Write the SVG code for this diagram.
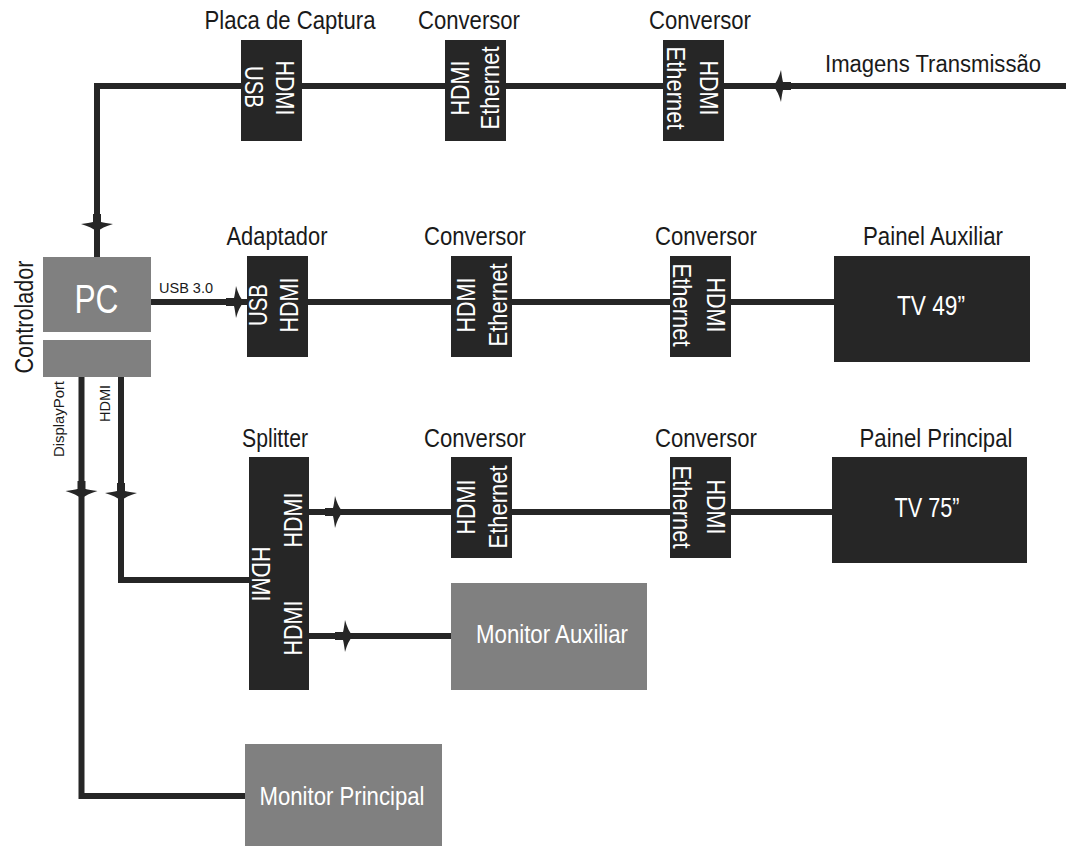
<svg xmlns="http://www.w3.org/2000/svg" xmlns:xlink="http://www.w3.org/1999/xlink" width="1066" height="848" viewBox="0 0 1066 848">
<style>
.ln{fill:none;stroke:#262626;stroke-width:6;stroke-linejoin:miter}
.dk{fill:#262626}
.gy{fill:#808080}
.lb{font-family:"Liberation Sans",Arial,sans-serif;font-size:25.5px;fill:#1a1a1a;text-anchor:middle}
.vt{font-family:"Liberation Sans",Arial,sans-serif;font-size:26px;fill:#ffffff;text-anchor:middle}
.wt{font-family:"Liberation Sans",Arial,sans-serif;fill:#ffffff;text-anchor:middle}
.sm{font-family:"Liberation Sans",Arial,sans-serif;fill:#1a1a1a;text-anchor:middle}
.ah{fill:#262626}
</style>
<defs>
<path id="ah" d="M0,0 Q-5,-5 -8,-16 Q-9,-8 -10,-4 L-18,-4 L-18,4 L-10,4 Q-9,8 -8,16 Q-5,5 0,0 Z"/>
</defs>
<rect width="1066" height="848" fill="#ffffff"/>
<g id="connectors">
<path class="ln" d="M1066,86 H97 V257"/>
<path class="ln" d="M151,302 H834"/>
<path class="ln" d="M309,512 H832"/>
<path class="ln" d="M309,636 H451"/>
<path class="ln" d="M121,377 V580 H249"/>
<path class="ln" d="M81.5,377 V796 H245"/>
<g class="ah">
<use xlink:href="#ah" transform="translate(97,232) rotate(90)"/>
<use xlink:href="#ah" transform="translate(773,86) rotate(180)"/>
<use xlink:href="#ah" transform="translate(244,302)"/>
<use xlink:href="#ah" transform="translate(81.5,499) rotate(90)"/>
<use xlink:href="#ah" transform="translate(121,501) rotate(90)"/>
<use xlink:href="#ah" transform="translate(343,512)"/>
<use xlink:href="#ah" transform="translate(353,636)"/>
</g>
<text class="sm" x="186" y="293" font-size="14" textLength="54" lengthAdjust="spacingAndGlyphs">USB 3.0</text>
<text class="sm" font-size="15" textLength="76" lengthAdjust="spacingAndGlyphs" transform="translate(64,419) rotate(-90)">DisplayPort</text>
<text class="sm" font-size="14" textLength="37" lengthAdjust="spacingAndGlyphs" transform="translate(110,403.5) rotate(-90)">HDMI</text>
<text class="lb" x="933" y="72" style="font-size:23.5px" textLength="216" lengthAdjust="spacingAndGlyphs">Imagens Transmissão</text>
</g>
<g id="controlador">
<rect class="gy" x="43" y="257" width="108" height="75"/>
<rect class="gy" x="43" y="340" width="108" height="37"/>
<text class="wt" x="96.5" y="313" font-size="41" textLength="44" lengthAdjust="spacingAndGlyphs">PC</text>
<text class="lb" textLength="113" lengthAdjust="spacingAndGlyphs" transform="translate(33,317) rotate(-90)">Controlador</text>
</g>
<g id="placa-captura">
<text class="lb" x="290" y="29" textLength="171" lengthAdjust="spacingAndGlyphs">Placa de Captura</text>
<rect class="dk" x="241" y="40" width="61" height="101"/>
<text class="vt" textLength="42" lengthAdjust="spacingAndGlyphs" transform="translate(245,87) rotate(90)">USB</text>
<text class="vt" textLength="55" lengthAdjust="spacingAndGlyphs" transform="translate(276,88) rotate(90)">HDMI</text>
</g>
<g id="conversor-1a">
<text class="lb" x="469" y="29" textLength="102" lengthAdjust="spacingAndGlyphs">Conversor</text>
<rect class="dk" x="445" y="40" width="61" height="101"/>
<text class="vt" textLength="55" lengthAdjust="spacingAndGlyphs" transform="translate(469,88) rotate(-90)">HDMI</text>
<text class="vt" textLength="83" lengthAdjust="spacingAndGlyphs" transform="translate(499,88) rotate(-90)">Ethernet</text>
</g>
<g id="conversor-1b">
<text class="lb" x="700" y="29" textLength="102" lengthAdjust="spacingAndGlyphs">Conversor</text>
<rect class="dk" x="663" y="40" width="61" height="101"/>
<text class="vt" textLength="83" lengthAdjust="spacingAndGlyphs" transform="translate(667,88) rotate(90)">Ethernet</text>
<text class="vt" textLength="55" lengthAdjust="spacingAndGlyphs" transform="translate(700,88) rotate(90)">HDMI</text>
</g>
<g id="adaptador">
<text class="lb" x="277" y="245" textLength="101" lengthAdjust="spacingAndGlyphs">Adaptador</text>
<rect class="dk" x="247" y="256" width="61" height="101"/>
<text class="vt" textLength="42" lengthAdjust="spacingAndGlyphs" transform="translate(267,305) rotate(-90)">USB</text>
<text class="vt" textLength="55" lengthAdjust="spacingAndGlyphs" transform="translate(298,305) rotate(-90)">HDMI</text>
</g>
<g id="conversor-2a">
<text class="lb" x="475" y="245" textLength="102" lengthAdjust="spacingAndGlyphs">Conversor</text>
<rect class="dk" x="451" y="256" width="61" height="101"/>
<text class="vt" textLength="55" lengthAdjust="spacingAndGlyphs" transform="translate(475,305) rotate(-90)">HDMI</text>
<text class="vt" textLength="83" lengthAdjust="spacingAndGlyphs" transform="translate(507,305) rotate(-90)">Ethernet</text>
</g>
<g id="conversor-2b">
<text class="lb" x="706" y="245" textLength="102" lengthAdjust="spacingAndGlyphs">Conversor</text>
<rect class="dk" x="670" y="256" width="61" height="101"/>
<text class="vt" textLength="83" lengthAdjust="spacingAndGlyphs" transform="translate(673,305) rotate(90)">Ethernet</text>
<text class="vt" textLength="55" lengthAdjust="spacingAndGlyphs" transform="translate(707,305) rotate(90)">HDMI</text>
</g>
<g id="painel-auxiliar">
<text class="lb" x="933" y="245" textLength="140" lengthAdjust="spacingAndGlyphs">Painel Auxiliar</text>
<rect class="dk" x="834" y="256" width="196" height="106"/>
<text class="wt" x="931" y="315" font-size="28" textLength="68" lengthAdjust="spacingAndGlyphs">TV 49”</text>
</g>
<g id="splitter">
<text class="lb" x="275" y="447" textLength="66" lengthAdjust="spacingAndGlyphs">Splitter</text>
<rect class="dk" x="249" y="457" width="60" height="233"/>
<text class="vt" textLength="55" lengthAdjust="spacingAndGlyphs" transform="translate(302,520) rotate(-90)">HDMI</text>
<text class="vt" textLength="55" lengthAdjust="spacingAndGlyphs" transform="translate(252,574) rotate(90)">HDMI</text>
<text class="vt" textLength="55" lengthAdjust="spacingAndGlyphs" transform="translate(302,628) rotate(-90)">HDMI</text>
</g>
<g id="conversor-3a">
<text class="lb" x="475" y="447" textLength="102" lengthAdjust="spacingAndGlyphs">Conversor</text>
<rect class="dk" x="451" y="457" width="61" height="101"/>
<text class="vt" textLength="55" lengthAdjust="spacingAndGlyphs" transform="translate(475,507) rotate(-90)">HDMI</text>
<text class="vt" textLength="83" lengthAdjust="spacingAndGlyphs" transform="translate(507,507) rotate(-90)">Ethernet</text>
</g>
<g id="conversor-3b">
<text class="lb" x="706" y="447" textLength="102" lengthAdjust="spacingAndGlyphs">Conversor</text>
<rect class="dk" x="670" y="457" width="61" height="101"/>
<text class="vt" textLength="83" lengthAdjust="spacingAndGlyphs" transform="translate(673,507) rotate(90)">Ethernet</text>
<text class="vt" textLength="55" lengthAdjust="spacingAndGlyphs" transform="translate(707,507) rotate(90)">HDMI</text>
</g>
<g id="painel-principal">
<text class="lb" x="936" y="447" textLength="153" lengthAdjust="spacingAndGlyphs">Painel Principal</text>
<rect class="dk" x="832" y="457" width="195" height="106"/>
<text class="wt" x="927" y="517" font-size="28" textLength="65" lengthAdjust="spacingAndGlyphs">TV 75”</text>
</g>
<g id="monitor-auxiliar">
<rect class="gy" x="451" y="583" width="196" height="107"/>
<text class="wt" x="552" y="643" font-size="25" textLength="152" lengthAdjust="spacingAndGlyphs">Monitor Auxiliar</text>
</g>
<g id="monitor-principal">
<rect class="gy" x="245" y="744" width="197" height="102"/>
<text class="wt" x="342" y="805" font-size="25" textLength="165" lengthAdjust="spacingAndGlyphs">Monitor Principal</text>
</g>
</svg>
